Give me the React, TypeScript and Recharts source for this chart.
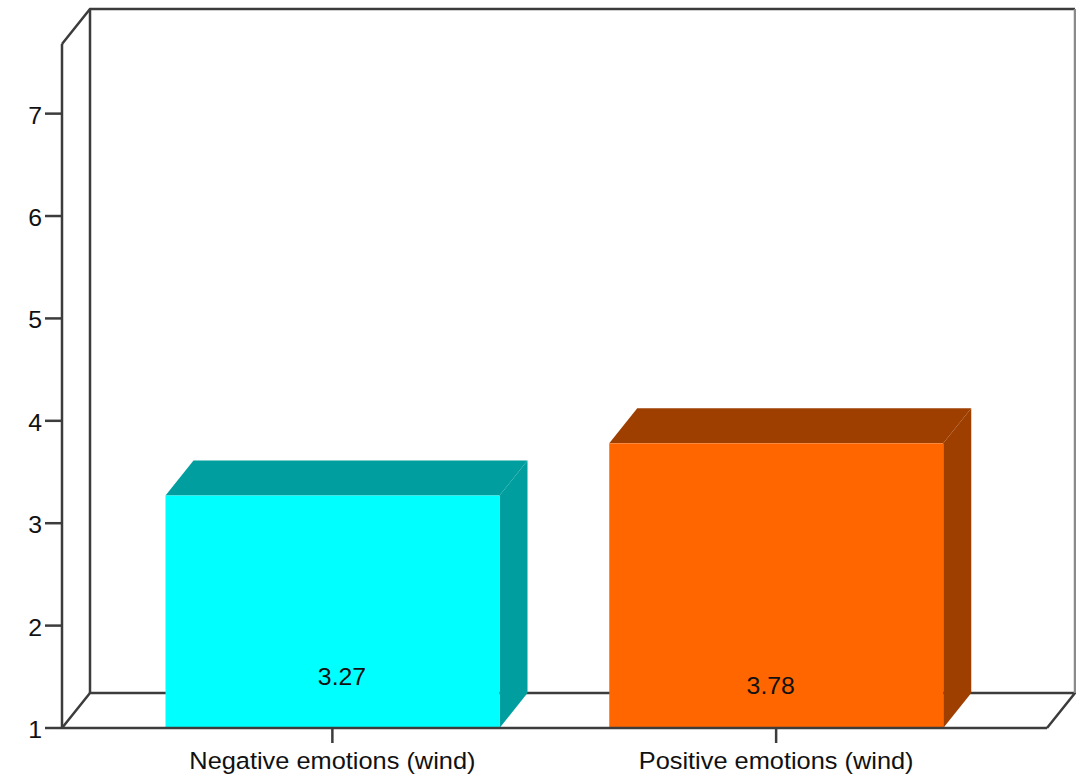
import { BarChart, Bar, XAxis, YAxis, Cell, LabelList, usePlotArea } from 'recharts';

const categories = ['Negative emotions (wind)', 'Positive emotions (wind)'];
const values = [3.27, 3.78];
const yTicks = [1, 2, 3, 4, 5, 6, 7];

const FRONT_COLORS = ['#00ffff', '#ff6600'];
const SHADE_COLORS = ['#009e9e', '#9e3f00'];
const LINE = '#3c3c3c';
const TEXT = '#111111';
const FONT = '"Liberation Sans", Arial, sans-serif';
const LINE_WIDTH = 2.5;
const DEPTH_X = 28;
const DEPTH_Y = 35;
const STRETCH = 1.08;

// the value labels sit low in the bars, not centred, so each one gets its own nudge
const LABEL_DX = [9.5, -5.5];
const LABEL_RISE = [43, 34];

const chartData = categories.map((name, i) => ({ name, value: values[i] }));

function Label({ x, y, anchor, size = 23, children }: { x: number; y: number; anchor: string; size?: number; children: any }) {
  return (
    <text
      transform={`translate(${x} ${y}) scale(${STRETCH} 1)`}
      textAnchor={anchor as any}
      fontFamily={FONT}
      fontSize={size}
      fill={TEXT}
    >
      {children}
    </text>
  );
}

function Box3D(props: any) {
  const { x, y, width, height, index } = props;
  const r = x + width;
  const b = y + height;
  return (
    <g>
      <polygon
        points={`${x},${y} ${x + DEPTH_X},${y - DEPTH_Y} ${r + DEPTH_X},${y - DEPTH_Y} ${r},${y}`}
        fill={SHADE_COLORS[index]}
      />
      <polygon
        points={`${r},${y} ${r + DEPTH_X},${y - DEPTH_Y} ${r + DEPTH_X},${b - DEPTH_Y} ${r},${b}`}
        fill={SHADE_COLORS[index]}
      />
      <rect x={x} y={y} width={width} height={height} fill={FRONT_COLORS[index]} />
    </g>
  );
}

function Walls() {
  const plot = usePlotArea();
  if (!plot) return null;
  const l = plot.x;
  const t = plot.y;
  const r = plot.x + plot.width;
  const b = plot.y + plot.height;
  return (
    <g stroke={LINE} strokeWidth={LINE_WIDTH} fill="none">
      <polyline points={`${l},${t} ${l + DEPTH_X},${t - DEPTH_Y} ${r + DEPTH_X},${t - DEPTH_Y}`} />
      <line x1={l + DEPTH_X} y1={t - DEPTH_Y} x2={l + DEPTH_X} y2={b - DEPTH_Y} />
      <polyline points={`${l},${b} ${l + DEPTH_X},${b - DEPTH_Y} ${r + DEPTH_X},${b - DEPTH_Y} ${r},${b}`} />
      <line x1={r + DEPTH_X} y1={t - DEPTH_Y} x2={r + DEPTH_X} y2={b - DEPTH_Y} stroke="#8a8a8a" />
    </g>
  );
}

function YTick({ x, y, payload }: any) {
  return (
    <Label x={x} y={y + 10} anchor="end">
      {payload.value}
    </Label>
  );
}

function XTick({ x, y, payload }: any) {
  return (
    <Label x={x} y={y + 24} anchor="middle" size={23.5}>
      {payload.value}
    </Label>
  );
}

function ValueLabel({ x, y, width, height, index, value }: any) {
  return (
    <Label x={x + width / 2 + LABEL_DX[index]} y={y + height - LABEL_RISE[index]} anchor="middle">
      {value}
    </Label>
  );
}

export default function App() {
  return (
    <div style={{ position: 'absolute', left: 0, top: 0, background: '#fff' }}>
      <BarChart
        width={1076}
        height={778}
        data={chartData}
        margin={{ top: 44, right: 29, bottom: 0, left: 0 }}
        barSize={334}
      >
        <Walls />
        <YAxis
          width={62}
          domain={[1, 7.68]}
          ticks={yTicks}
          interval={0}
          allowDataOverflow
          axisLine={{ stroke: LINE, strokeWidth: LINE_WIDTH }}
          tickLine={{ stroke: LINE, strokeWidth: LINE_WIDTH }}
          tickSize={17}
          tickMargin={3}
          tick={<YTick />}
        />
        <Bar dataKey="value" isAnimationActive={false} shape={<Box3D />}>
          {chartData.map((_, i) => (
            <Cell key={i} fill={FRONT_COLORS[i]} />
          ))}
          <LabelList dataKey="value" content={<ValueLabel />} />
        </Bar>
        <XAxis
          dataKey="name"
          height={50}
          padding={{ left: 48.5, right: 49 }}
          interval={0}
          axisLine={{ stroke: LINE, strokeWidth: LINE_WIDTH }}
          tickLine={{ stroke: LINE, strokeWidth: LINE_WIDTH }}
          tickSize={15}
          tick={<XTick />}
        />
      </BarChart>
    </div>
  );
}
